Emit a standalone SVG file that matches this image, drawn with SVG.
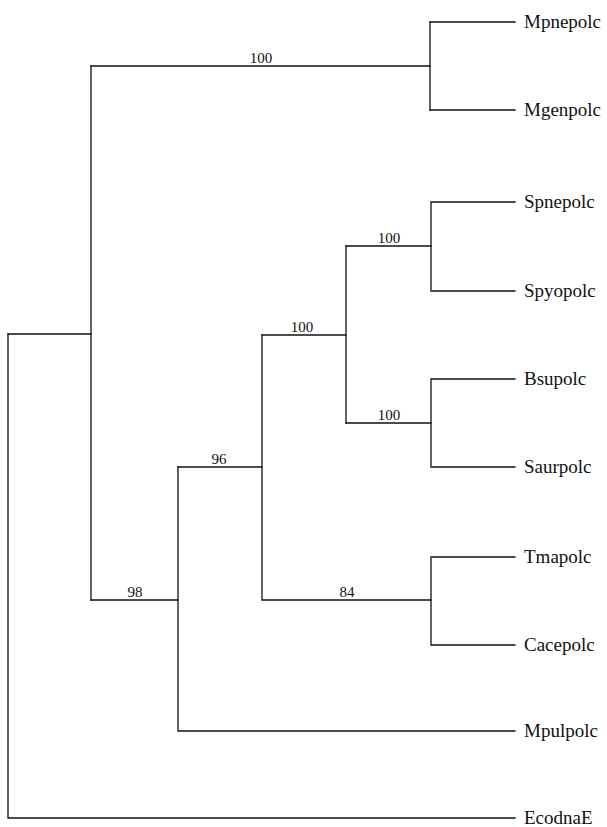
<svg xmlns="http://www.w3.org/2000/svg" width="607" height="827" viewBox="0 0 607 827">
<style>
.e{fill:none;stroke:#111;stroke-width:1.3;stroke-linecap:square}
.leaf{font-family:"Liberation Serif",serif;font-size:19px;fill:#111}
.bs{font-family:"Liberation Serif",serif;font-size:15px;fill:#111;text-anchor:middle}
</style>
<rect width="607" height="827" fill="#fff"/>
<g id="connectors">
<path class="e" d="M8,334V818H515"/>
<path class="e" d="M8,334H91"/>
<path class="e" d="M91,66V600"/>
<path class="e" d="M91,66H430"/>
<path class="e" d="M430,22V110"/>
<path class="e" d="M430,22H515M430,110H515"/>
<path class="e" d="M91,600H178"/>
<path class="e" d="M178,467V731H515"/>
<path class="e" d="M178,467H262"/>
<path class="e" d="M262,335V600H431"/>
<path class="e" d="M262,335H346"/>
<path class="e" d="M346,246V423"/>
<path class="e" d="M346,246H431M346,423H431"/>
<path class="e" d="M431,202V291M431,202H515M431,291H515"/>
<path class="e" d="M431,379V467M431,379H515M431,467H515"/>
<path class="e" d="M431,557V645M431,557H515M431,645H515"/>
</g>
<g id="support">
<text class="bs" x="261" y="63">100</text>
<text class="bs" x="389" y="243">100</text>
<text class="bs" x="389" y="420">100</text>
<text class="bs" x="302" y="332">100</text>
<text class="bs" x="219" y="464">96</text>
<text class="bs" x="135" y="597">98</text>
<text class="bs" x="347" y="597">84</text>
</g>
<g id="n-mpnepolc"><text class="leaf" x="524" y="28">Mpnepolc</text></g>
<g id="n-mgenpolc"><text class="leaf" x="524" y="116">Mgenpolc</text></g>
<g id="n-spnepolc"><text class="leaf" x="524" y="208">Spnepolc</text></g>
<g id="n-spyopolc"><text class="leaf" x="524" y="297">Spyopolc</text></g>
<g id="n-bsupolc"><text class="leaf" x="524" y="385">Bsupolc</text></g>
<g id="n-saurpolc"><text class="leaf" x="524" y="473">Saurpolc</text></g>
<g id="n-tmapolc"><text class="leaf" x="524" y="563">Tmapolc</text></g>
<g id="n-cacepolc"><text class="leaf" x="524" y="651">Cacepolc</text></g>
<g id="n-mpulpolc"><text class="leaf" x="524" y="737">Mpulpolc</text></g>
<g id="n-ecodnae"><text class="leaf" x="524" y="824">EcodnaE</text></g>
</svg>
